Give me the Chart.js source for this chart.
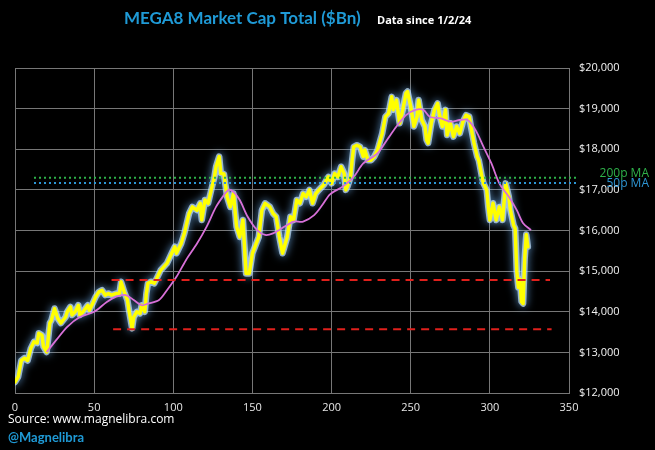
<!DOCTYPE html>
<html>
<head>
<meta charset="utf-8">
<title>MEGA8 Market Cap Total</title>
<script src="https://cdn.jsdelivr.net/npm/chart.js@4/dist/chart.umd.min.js"></script>
<style>
  html, body { margin: 0; padding: 0; background: #000; }
  #wrap { width: 655px; height: 450px; position: relative; }
</style>
</head>
<body>
<div id="wrap"><canvas id="chart"></canvas></div>
<script>
// Trading days since 1/2/24 and MEGA8 total market cap ($Bn)
const capDays = [0, 2, 4, 6, 8, 10, 12, 14, 15, 17, 18, 20, 21, 22, 23, 25, 27, 29, 32, 33,
  35, 36, 38, 40, 41, 43, 46, 47, 49, 51, 53, 55, 57, 59, 61, 64, 66, 67, 69, 71,
  72, 74, 75, 77, 79, 80, 82, 83, 84, 86, 88, 92, 96, 99, 101, 102, 105, 107, 110, 112,
  115, 117, 118, 120, 122, 124, 126, 127, 129, 130, 132, 134, 136, 138, 140, 142, 144, 146, 148, 150,
  154, 156, 158, 161, 163, 165, 167, 169, 172, 174, 176, 178, 180, 182, 184, 186, 188, 190, 192, 195,
  198, 200, 202, 204, 206, 208, 209, 210, 212, 213, 214, 216, 218, 220, 221, 223, 225, 227, 229, 232,
  234, 236, 238, 239, 241, 243, 245, 247, 248, 250, 252, 254, 255, 257, 259, 260, 261, 263, 265, 267,
  268, 270, 272, 273, 275, 277, 279, 281, 283, 285, 287, 288, 290, 292, 293, 295, 296, 298, 299, 300,
  302, 304, 306, 308, 310, 312, 313, 315, 316, 317, 318, 319, 320, 321, 322, 323, 324];
const capValues = [12270, 12400, 12800, 12860, 12800, 13100, 13260, 13230, 13470, 13420, 13140, 13010, 13350, 13720, 13790, 14080, 13840, 13720, 13870, 14000,
  14120, 13920, 14000, 14160, 13920, 14000, 14160, 14040, 14200, 14370, 14490, 14530, 14410, 14450, 14410, 14450, 14450, 14740, 14490, 14290,
  14040, 13590, 13870, 14000, 13960, 14160, 14000, 14450, 14700, 14740, 14700, 15020, 15190, 15440, 15600, 15440, 15680, 15930, 16420, 16580,
  16500, 16670, 16260, 16750, 16670, 17000, 17320, 17570, 17820, 17410, 17390, 16830, 16580, 16910, 16090, 15840, 16260, 14940, 14940, 15440,
  15840, 16500, 16670, 16580, 16420, 16340, 15840, 15440, 15840, 16340, 16260, 16750, 16670, 16910, 16830, 17000, 16670, 16910, 17000, 17120,
  17320, 17160, 17400, 17320, 17570, 17400, 17000, 17080, 17320, 17730, 18060, 18100, 18060, 17820, 17980, 17730, 17730, 17820, 17980, 18390,
  18800, 18880, 19290, 18970, 19210, 18640, 18970, 19380, 19420, 19050, 18560, 18800, 19210, 18720, 18560, 18230, 18150, 18640, 18970, 19130,
  18880, 18560, 18970, 18350, 18640, 18310, 18560, 18390, 18680, 18840, 18800, 18560, 18150, 17820, 17730, 17320, 17160, 17000, 16580, 16260,
  16670, 16260, 16580, 16260, 17160, 16830, 16500, 16130, 16050, 15000, 14600, 14800, 14250, 14200, 15300, 15900, 15600];

// moving average line (magenta)
const maDays = [20, 26, 33, 41, 50, 58, 64, 70, 75, 80, 84, 91, 96, 102, 108, 115, 121, 127, 132, 135,
  138, 142, 147, 153, 158, 163, 170, 176, 182, 189, 194, 199, 207, 214, 220, 229, 235, 241, 247, 253,
  258, 262, 269, 275, 281, 286, 291, 296, 301, 306, 312, 317, 321, 326];
const maValues = [13010, 13300, 13630, 13870, 14000, 14240, 14370, 14410, 14290, 14160, 14200, 14290, 14530, 14860, 15270, 15680, 16090, 16580, 16870, 17000,
  16950, 16750, 16340, 16010, 15890, 15930, 16090, 16220, 16220, 16380, 16620, 16890, 17080, 17320, 17650, 17900, 18230, 18560, 18840, 18970,
  18970, 18800, 18760, 18680, 18720, 18720, 18470, 18060, 17650, 17160, 16830, 16500, 16180, 16010];

// horizontal levels
const ma200Level = 17300;
const ma50Level = 17170;
const maLineSpan = [12, 355];
const supportLevels = [14780, 13570];
const supportSpans = [[61, 338], [62, 339]];

const xTicks = [0, 50, 100, 150, 200, 250, 300, 350];

const capPoints = capDays.map((d, i) => ({ x: d, y: capValues[i] }));
const maPoints = maDays.map((d, i) => ({ x: d, y: maValues[i] }));
const flat = (span, level) => span.map(d => ({ x: d, y: level }));

// soft blue glow on the halo under the yellow line
const glowPlugin = {
  id: 'glow',
  beforeDatasetDraw(chart, args) {
    if (args.index !== 0) return;
    const ctx = chart.ctx;
    ctx.save();
    ctx.shadowColor = 'rgba(120,190,255,1)';
    ctx.shadowBlur = 8;
  },
  afterDatasetDraw(chart, args) {
    if (args.index !== 0) return;
    chart.ctx.restore();
  }
};

// title, notes and MA labels
const textPlugin = {
  id: 'notes',
  afterDraw(chart) {
    const ctx = chart.ctx;
    ctx.save();
    ctx.textBaseline = 'alphabetic';
    ctx.textAlign = 'left';
    ctx.fillStyle = '#1f9ad6';
    ctx.font = 'bold 17px Lato';
    ctx.fillText('MEGA8 Market Cap Total ($Bn)', 124, 24, 240);
    ctx.fillStyle = '#ffffff';
    ctx.font = 'bold 11px "Open Sans"';
    ctx.fillText('Data since 1/2/24', 377, 24);

    ctx.font = '12px "Open Sans"';
    ctx.fillText('Source: www.magnelibra.com', 8, 423);
    ctx.fillStyle = '#1f9ad6';
    ctx.font = 'bold 13px Lato';
    ctx.fillText('@Magnelibra', 8, 442);

    ctx.textAlign = 'right';
    ctx.font = '12px "Open Sans"';
    ctx.fillStyle = '#2fb24a';
    ctx.fillText('200p MA', 649, 177);
    ctx.fillStyle = '#2e96d4';
    ctx.fillText('50p MA', 649, 187);
    ctx.restore();
  }
};

new Chart(document.getElementById('chart'), {
  type: 'line',
  data: {
    datasets: [
      {
        label: 'halo',
        data: capPoints,
        borderColor: 'rgba(200,230,255,0.7)',
        borderWidth: 6.5,
        borderJoinStyle: 'round',
        borderCapStyle: 'round',
        pointRadius: 0,
        tension: 0,
        order: 11
      },
      {
        label: 'MEGA8',
        data: capPoints,
        borderColor: '#ffff00',
        borderWidth: 3.5,
        borderJoinStyle: 'round',
        borderCapStyle: 'round',
        pointRadius: 0,
        tension: 0,
        order: 10
      },
      {
        label: 'MA',
        data: maPoints,
        borderColor: '#d870d8',
        borderWidth: 1.8,
        pointRadius: 0,
        tension: 0.3,
        order: 3
      },
      {
        label: '200p MA',
        data: flat(maLineSpan, ma200Level),
        borderColor: '#2fb24a',
        borderWidth: 2,
        borderDash: [2, 3],
        pointRadius: 0,
        clip: false,
        order: 2
      },
      {
        label: '50p MA',
        data: flat(maLineSpan, ma50Level),
        borderColor: '#2e96d4',
        borderWidth: 2,
        borderDash: [2, 3],
        pointRadius: 0,
        clip: false,
        order: 2
      },
      {
        label: 'Support 1',
        data: flat(supportSpans[0], supportLevels[0]),
        borderColor: '#e0201c',
        borderWidth: 2,
        borderDash: [8, 6],
        pointRadius: 0,
        order: 1
      },
      {
        label: 'Support 2',
        data: flat(supportSpans[1], supportLevels[1]),
        borderColor: '#e0201c',
        borderWidth: 2,
        borderDash: [8, 6],
        pointRadius: 0,
        order: 1
      }
    ]
  },
  options: {
    responsive: true,
    maintainAspectRatio: false,
    animation: false,
    layout: { padding: { left: 15, top: 68, right: 0, bottom: 0 } },
    plugins: {
      legend: { display: false },
      tooltip: { enabled: false }
    },
    scales: {
      x: {
        type: 'linear',
        min: 0,
        max: 350,
        afterBuildTicks: axis => { axis.ticks = xTicks.map(v => ({ value: v })); },
        afterFit: axis => { axis.height = 57; },
        grid: { color: '#777', lineWidth: 1, drawTicks: false },
        border: { color: '#777' },
        ticks: { color: '#e6e6e6', padding: 8, font: { family: 'Open Sans', size: 11 } }
      },
      y: {
        position: 'right',
        min: 12000,
        max: 20000,
        afterFit: axis => { axis.width = 86; },
        grid: { color: '#777', lineWidth: 1, drawTicks: false },
        border: { color: '#777' },
        ticks: {
          stepSize: 1000,
          color: '#f2f2f2',
          padding: 10,
          font: { family: 'Open Sans', size: 11 },
          callback: v => '$' + v.toLocaleString('en-US')
        }
      }
    }
  },
  plugins: [glowPlugin, textPlugin]
});
</script>
</body>
</html>
